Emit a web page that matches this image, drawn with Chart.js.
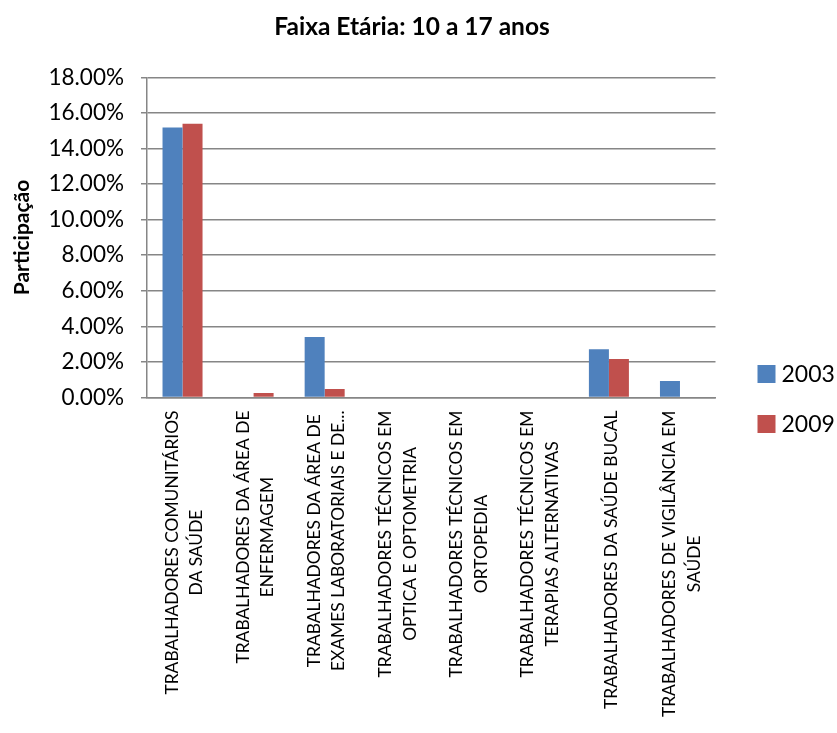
<!DOCTYPE html>
<html><head><meta charset="utf-8">
<script src="https://cdn.jsdelivr.net/npm/chart.js@4"></script>
<style>html,body{margin:0;padding:0;background:#fff}#wrap{width:837px;height:733px}</style>
</head><body><div id="wrap"><canvas id="c" width="837" height="733"></canvas></div>
<script>
const chartTitle = 'Faixa Etária: 10 a 17 anos';
const yAxisTitle = 'Participação';
const categories = [
  ['TRABALHADORES COMUNITÁRIOS', 'DA SAÚDE'],
  ['TRABALHADORES DA ÁREA DE', 'ENFERMAGEM'],
  ['TRABALHADORES DA ÁREA DE', 'EXAMES LABORATORIAIS E DE...'],
  ['TRABALHADORES TÉCNICOS EM', 'OPTICA E OPTOMETRIA'],
  ['TRABALHADORES TÉCNICOS EM', 'ORTOPEDIA'],
  ['TRABALHADORES TÉCNICOS EM', 'TERAPIAS ALTERNATIVAS'],
  ['TRABALHADORES DA SAÚDE BUCAL'],
  ['TRABALHADORES DE VIGILÂNCIA EM', 'SAÚDE']
];
const seriesNames = ['2003', '2009'];
const values2003 = [15.18, 0, 3.40, 0, 0, 0, 2.72, 0.93];
const values2009 = [15.40, 0.25, 0.48, 0, 0, 0, 2.16, 0];
const yMin = 0, yMax = 18, yStep = 2;

const FONT = 'Lato';
const GRID = '#868686';

const xLabelPlugin = {
  id: 'xLabels',
  afterDraw(chart) {
    const ctx = chart.ctx, xs = chart.scales.x, area = chart.chartArea;
    ctx.save();
    ctx.font = '17.4px ' + FONT;
    ctx.fillStyle = '#000';
    ctx.textAlign = 'center';
    ctx.textBaseline = 'middle';
    categories.forEach((lines, i) => {
      const x = xs.getPixelForValue(i) + 2;
      const y = area.bottom + 13;
      const maxW = Math.max(...lines.map(l => ctx.measureText(l).width));
      ctx.save();
      ctx.translate(x, y);
      ctx.rotate(-Math.PI / 2);
      lines.forEach((l, k) => {
        ctx.fillText(l, -maxW / 2, (k - (lines.length - 1) / 2) * 24.4);
      });
      ctx.restore();
    });
    ctx.restore();
  }
};

const legendPlugin = {
  id: 'sideLegend',
  afterDraw(chart) {
    const ctx = chart.ctx, area = chart.chartArea;
    ctx.save();
    ctx.font = '23px ' + FONT;
    ctx.textAlign = 'left';
    ctx.textBaseline = 'middle';
    chart.data.datasets.forEach((ds, i) => {
      const cy = 374 + i * 50;
      const bx = area.right + 42;
      ctx.fillStyle = ds.backgroundColor;
      ctx.fillRect(bx, cy - 9, 18, 18);
      ctx.fillStyle = '#000';
      ctx.fillText(ds.label, bx + 24, cy + 1);
    });
    ctx.restore();
  }
};

function build() {
  new Chart(document.getElementById('c'), {
    type: 'bar',
    data: {
      labels: categories.map(l => l.join(' ')),
      datasets: [
        { label: seriesNames[0], data: values2003, backgroundColor: '#4F81BD', barPercentage: 1, categoryPercentage: 0.563 },
        { label: seriesNames[1], data: values2009, backgroundColor: '#C0504D', barPercentage: 1, categoryPercentage: 0.563 }
      ]
    },
    options: {
      responsive: false,
      animation: false,
      devicePixelRatio: 1,
      layout: { padding: { left: 0, right: 13, top: 0, bottom: 0 } },
      plugins: {
        legend: { display: false },
        tooltip: { enabled: false },
        title: {
          display: true, text: chartTitle, color: '#000',
          font: { family: FONT, size: 24.5, weight: 'bold' },
          padding: { top: 12.3, bottom: 35.7 }
        }
      },
      scales: {
        x: {
          grid: { display: false },
          border: { display: true, color: GRID, width: 1.5 },
          ticks: { display: false },
          afterFit(s) { s.height = 733 - 397.5; }
        },
        y: {
          min: yMin, max: yMax,
          ticks: {
            stepSize: yStep, color: '#000', padding: 17,
            font: { family: FONT, size: 22.5 },
            callback: v => v.toFixed(2) + '%'
          },
          grid: { color: GRID, lineWidth: 1.5, tickLength: 6 },
          border: { display: true, color: GRID, width: 1.5 },
          title: {
            display: true, text: yAxisTitle, color: '#000',
            font: { family: FONT, size: 21, weight: 'bold' },
            padding: { top: 10, bottom: 0 }
          },
          afterFit(s) { s.width = 147; }
        },
        legendSpace: {
          type: 'linear', position: 'right', display: true,
          grid: { display: false }, border: { display: false },
          ticks: { display: false },
          afterFit(s) { s.width = 837 - 13 - 715.5; }
        }
      }
    },
    plugins: [xLabelPlugin, legendPlugin]
  });
}
Promise.all([
  document.fonts.load('17px Lato'),
  document.fonts.load('bold 22px Lato')
]).then(build, build);
</script>
</body></html>
